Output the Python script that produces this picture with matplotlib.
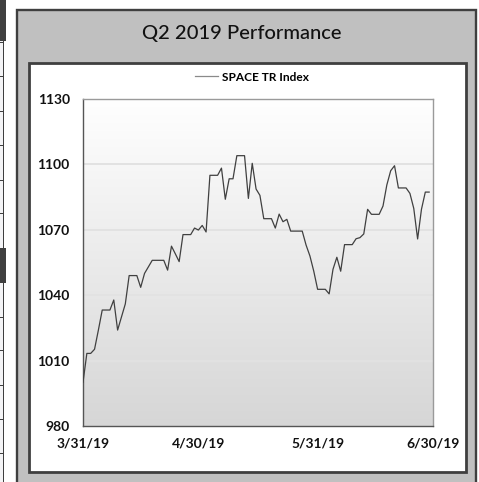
import matplotlib
matplotlib.use("Agg")
import matplotlib.pyplot as plt
from matplotlib.patches import Rectangle
import numpy as np
import pandas as pd

# chart data
title = "Q2 2019 Performance"
series_name = "SPACE TR Index"
start_date = "2019-03-31"
# daily closes (weekends / holidays carry the last value)
index_values = [
    1000.0, 1013.3, 1013.3, 1015.2, 1024.0, 1033.2, 1033.2, 1033.2,
    1037.8, 1024.0, 1030.0, 1036.0, 1049.0, 1049.0, 1049.0,
    1043.6, 1050.0, 1053.0, 1056.0, 1056.0, 1056.0, 1056.0,
    1051.5, 1062.5, 1059.0, 1055.4, 1067.8, 1067.8, 1067.8,
    1070.8, 1069.9, 1072.0, 1069.0, 1095.0, 1095.0, 1095.0,
    1098.3, 1084.0, 1093.4, 1093.4, 1104.0, 1104.0, 1104.0,
    1084.4, 1100.5, 1088.7, 1085.8, 1075.1, 1075.1, 1075.1,
    1070.8, 1077.2, 1073.7, 1074.8, 1069.4, 1069.4, 1069.4,
    1069.4, 1063.0, 1058.0, 1051.0, 1042.7, 1042.7, 1042.7,
    1040.6, 1051.9, 1057.4, 1051.0, 1063.2, 1063.2, 1063.2,
    1065.9, 1066.4, 1068.1, 1079.4, 1077.1, 1077.1, 1077.1,
    1080.9, 1090.6, 1097.1, 1099.4, 1089.2, 1089.2, 1089.2,
    1086.7, 1079.8, 1065.8, 1079.4, 1087.3, 1087.3,
]
y_ticks = [980, 1010, 1040, 1070, 1100, 1130]
x_tick_dates = ["2019-03-31", "2019-04-30", "2019-05-31", "2019-06-30"]
x_tick_labels = ["3/31/19", "4/30/19", "5/31/19", "6/30/19"]

dates = pd.date_range(start_date, periods=len(index_values), freq="D")

W, H = 479, 482
DARK = "#3f3f3f"
FONT = ["Lato", "DejaVu Sans"]
plt.rcParams["font.family"] = FONT

fig = plt.figure(figsize=(W / 100, H / 100), dpi=100)


def add_box(x0, y0, x1, y1, **kw):
    # pixel box with origin at top-left -> figure fraction
    r = Rectangle((x0 / W, 1 - y1 / H), (x1 - x0) / W, (y1 - y0) / H,
                  transform=fig.transFigure, zorder=-5, **kw)
    fig.add_artist(r)


# bits of the neighbouring table on the left edge
add_box(-2, -2, 3.5, H + 2, facecolor="#f4f4f6", edgecolor="none")
add_box(3, -2, 4.2, H + 2, facecolor=DARK, edgecolor="none")
add_box(-2, -2, 6, 41, facecolor=DARK, edgecolor="none")
add_box(-2, 248, 6, 283, facecolor=DARK, edgecolor="none")
for yy in [42, 76, 111, 145, 180, 213, 317, 350, 385, 419, 453]:
    add_box(-2, yy, 4, yy + 1.2, facecolor=DARK, edgecolor="none")

# outer grey panel and inner white panel
add_box(17.2, 10.5, 476.2, H + 10, facecolor="#c0c0c0", edgecolor=DARK, linewidth=1.7)
add_box(29.2, 62.5, 466.3, 472.3, facecolor="white", edgecolor=DARK, linewidth=2.0)

fig.text(241.5 / W, 1 - 34 / H, title, ha="center", va="center",
         fontsize=14.5, fontweight="medium", color="#111111")

ax = fig.add_axes([83 / W, 1 - 426 / H, 350 / W, 327 / H])
ax.set_zorder(5)

# vertical gradient background
grad = np.linspace(1.0, 0.0, 256).reshape(-1, 1)
top = np.array([1.0, 1.0, 1.0])
bot = np.array([0.84, 0.84, 0.84])
img = top * grad[..., None] + bot * (1 - grad[..., None])
ax.imshow(img, extent=[0, 1, 0, 1], transform=ax.transAxes, aspect="auto",
          zorder=0, interpolation="bicubic")

ax.plot(dates, index_values, color="#404040", linewidth=0.9, zorder=3,
        label=series_name)

ax.set_ylim(y_ticks[0], y_ticks[-1])
ax.set_yticks(y_ticks)
ax.set_xlim(pd.Timestamp(x_tick_dates[0]), pd.Timestamp(x_tick_dates[-1]))
ax.set_xticks(pd.to_datetime(x_tick_dates))
ax.set_xticklabels(x_tick_labels)
for yv in y_ticks[1:-1]:
    ax.axhline(yv, color="#e2e2e2", linewidth=1.4, zorder=1)

ax.tick_params(length=0, labelsize=10, colors="#111111")
ax.tick_params(axis="y", pad=9.5)
ax.tick_params(axis="x", pad=8.5)
for lab in ax.get_xticklabels() + ax.get_yticklabels():
    lab.set_fontweight("bold")

ax.spines["left"].set_color("#555555")
ax.spines["bottom"].set_color("#555555")
ax.spines["top"].set_color("#9a9a9a")
ax.spines["right"].set_color("#9a9a9a")
for s in ax.spines.values():
    s.set_linewidth(1.0)

leg = ax.legend(loc="center", bbox_to_anchor=(0.483, 1.067), frameon=False,
                fontsize=8.6, handlelength=1.9, handletextpad=0.35,
                borderaxespad=0.0, borderpad=0.0)
leg.get_lines()[0].set_color("#8a8a8a")
for t in leg.get_texts():
    t.set_fontweight("bold")

fig.savefig("out.png", dpi=100)
